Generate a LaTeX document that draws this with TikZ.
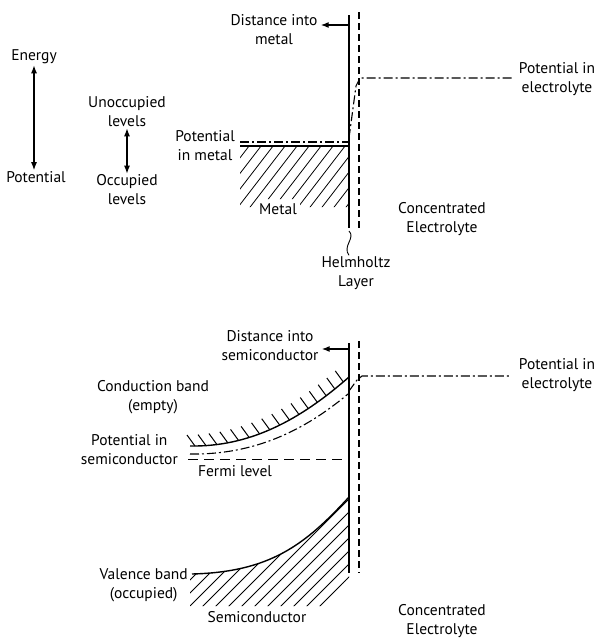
\documentclass[tikz,border=0pt]{standalone}
\usepackage{fontspec}
\setmainfont{PT Sans}
\usetikzlibrary{arrows.meta, decorations.markings}

\begin{document}
\begin{tikzpicture}[x=1pt, y=-1pt,
  lbl/.style={align=center, font=\fontsize{15.5}{19}\selectfont, inner sep=1pt},
  arrow/.style={-{Latex[length=8pt,width=6pt]}, line width=1.3pt, shorten >=2pt},
  dblarrow/.style={{Latex[length=8pt,width=6pt]}-{Latex[length=8pt,width=6pt]}, line width=1.3pt},
  electrode/.style={line width=1.5pt},
  helmholtz/.style={line width=1.2pt, dash pattern=on 7pt off 4pt},
  dashdot/.style={line width=1.1pt, dash pattern=on 9pt off 3pt on 2pt off 3pt},
  fermiline/.style={line width=0.9pt, dash pattern=on 10pt off 6pt},
  hatch/.style={line width=0.8pt},
  band/.style={line width=1.4pt},
  bandhatch/.style={postaction={decorate}, decoration={markings,
    mark=between positions 5pt and -2pt step 11pt with
    {\pgftransformresetnontranslations \draw[hatch, line width=1pt] (0pt,0pt) -- (-8pt,11pt);}}}
]
\useasboundingbox (0,0) rectangle (596,638);

% legend
\node[lbl] (energy) at (34,57) {Energy};
\node[lbl] (potential) at (36,177) {Potential};
\draw[dblarrow] (energy.south) -- (energy.south |- potential.north);
\node[lbl] (unocc) at (127,112) {Unoccupied\\levels};
\node[lbl] (occ) at (127,190) {Occupied\\levels};
\draw[dblarrow] (unocc.south) -- (unocc.south |- occ.north);

% metal / electrolyte
\coordinate (mtop) at (349,15);
\coordinate (mbot) at (349,228);
\coordinate (marr) at (349,25);
\draw[electrode] (mtop) -- (mbot);
\draw[helmholtz] (359,12) -- (359,228);
\node[lbl] (distm) at (274,30) {Distance into\\metal};
\draw[arrow] (marr) -- (marr -| distm.east);
\draw[dashdot] (240,142) -- (349,142);
\draw[band] (240,146) -- (349,146);
\begin{scope}
  \clip (240,147) -- (349,147) -- (349,207) -- (300,207) -- (300,199)
    -- (257,199) -- (257,207) -- (240,207) -- cycle;
  \foreach \x in {184,196,...,352}
    \draw[hatch] (\x,215) -- ++(60,-78);
\end{scope}
\node[lbl, anchor=east] (pmetal) at (236,146) {Potential\\in metal};
\node[lbl] (metal) at (278,209) {Metal};
\draw[dashdot] (349,138) -- (356,86) -- (360,78) -- (513,78);
\node[lbl] (pelec) at (557,79) {Potential in\\electrolyte};
\node[lbl] (conc) at (442,219) {Concentrated\\Electrolyte};
\node[lbl] (helm) at (356,273) {Helmholtz\\Layer};
\draw[line width=0.9pt] ([yshift=-3pt]mbot) .. controls (356,238) and (342,246) .. (helm.north -| mbot);

% semiconductor / electrolyte
\coordinate (stop) at (349,343);
\coordinate (sbot) at (349,573);
\coordinate (sarr) at (349,349);
\draw[electrode] (stop) -- (sbot);
\draw[helmholtz] (359,341) -- (359,573);
\node[lbl] (dists) at (270,346) {Distance into\\semiconductor};
\draw[arrow] (sarr) -- (sarr -| dists.east);
\draw[dashdot] (349,391) -- (357,380) -- (362,376) -- (510,376);
\node[lbl] (pelec2) at (557,375) {Potential in\\electrolyte};
\draw[band, bandhatch] (190,446) .. controls (250,447) and (300,420) .. (349,377);
\draw[dashdot] (190,454) .. controls (255,455) and (305,430) .. (348,394);
\draw[fermiline] (188,459) -- (345,459);
\node[lbl] (cband) at (153,397) {Conduction band\\(empty)};
\node[lbl, anchor=east] (psemi) at (179,450) {Potential in\\semiconductor};
\node[lbl] (fermilbl) at (235,471) {Fermi level};
\draw[band] (192,574) .. controls (270,572) and (305,545) .. (349,497);
\begin{scope}
  \clip (192,574) .. controls (270,572) and (305,545) .. (349,497)
    -- (349,578) -- (322,606) -- (190,606) -- (190,574) -- cycle;
  \foreach \x in {150,163,...,410}
    \draw[hatch] (\x,620) -- ++(130,-130);
\end{scope}
\node[lbl, anchor=east] (vband) at (189,585) {Valence band\\(occupied)};
\node[lbl] (semi) at (257,617) {Semiconductor};
\node[lbl] (conc2) at (442,621) {Concentrated\\Electrolyte};
\end{tikzpicture}
\end{document}
